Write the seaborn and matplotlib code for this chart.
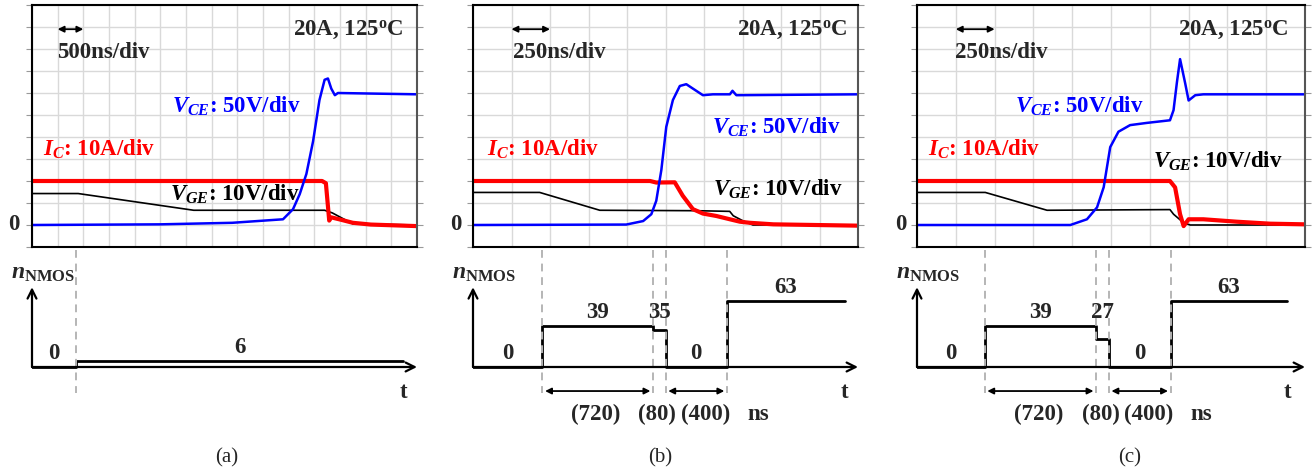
import numpy as np
import matplotlib
matplotlib.use("Agg")
import matplotlib.pyplot as plt
import seaborn as sns

sns.set_style("white")
plt.rcParams["font.family"] = ["Liberation Serif", "DejaVu Serif"]
plt.rcParams["mathtext.fontset"] = "custom"
plt.rcParams["mathtext.it"] = "Liberation Serif:italic:bold"
plt.rcParams["mathtext.rm"] = "Liberation Serif:bold"
plt.rcParams["mathtext.bf"] = "Liberation Serif:bold"

W, H = 1316, 473

# scope settings per panel
ns_per_div = [500, 250, 250]
n_cols = [15, 10, 10]
vce_div, ic_div, vge_div = 50, 10, 10   # V/div, A/div, V/div
time_labels = ["500ns/div", "250ns/div", "250ns/div"]
panel_tags = ["(a)", "(b)", "(c)"]

# (a) waveforms, t in ns
a_ic_t = [0, 5650, 5725, 5790, 5825, 6000, 6250, 6600, 7500]
a_ic = [20, 20, 19, 2, 3.5, 2.5, 1, 0.2, -0.5]
a_vge_t = [0, 900, 3150, 5700, 5850, 6250, 7500]
a_vge = [14.3, 14.3, 6.7, 6.7, 5.5, 0.5, 0]
a_vce_t = [0, 2500, 3900, 4890, 5085, 5215, 5345, 5475, 5600, 5700, 5765, 5830, 5900, 5960, 7500]
a_vce = [0, 1.5, 5, 13, 36, 70, 116, 190, 284, 330, 333, 310, 295, 300, 297]

# (b)
b_ic_t = [0, 1150, 1190, 1310, 1362, 1428, 1493, 1580, 1668, 1733, 1798, 1950, 2500]
b_ic = [20, 20, 19.3, 19.4, 13.3, 7.2, 5.2, 4.1, 2.6, 1.5, 1.0, 0.3, -0.3]
b_vge_t = [0, 433, 823, 1450, 1667, 1690, 1750, 1818, 2500]
b_vge = [14.8, 14.8, 6.7, 6.5, 6.2, 4.2, 2.0, 0, 0]
b_vce_t = [0, 995, 1105, 1158, 1190, 1223, 1255, 1298, 1343, 1385, 1428, 1493, 1558, 1668, 1685, 1710, 2500]
b_vce = [0, 1, 9, 24.5, 55, 125, 223, 284, 316, 320, 310, 295, 297, 297, 305, 295, 297]

# (c)
c_ic_t = [0, 1630, 1663, 1695, 1718, 1750, 1845, 2060, 2275, 2500]
c_ic = [20, 20, 17.1, 4.9, -0.5, 2.6, 2.6, 1.5, 0.6, 0.3]
c_vge_t = [0, 440, 838, 1630, 1653, 1718, 1760, 2500]
c_vge = [14.8, 14.8, 6.7, 7.0, 4.9, 1.0, 0, 0]
c_vce_t = [0, 988, 1095, 1160, 1203, 1245, 1298, 1373, 1480, 1630, 1653, 1675, 1695, 1728, 1750, 1793, 1845, 2500]
c_vce = [0, 0, 13, 40, 86, 177, 212, 227, 232, 238, 261, 325, 377, 322, 283, 295, 297, 297]

# n_NMOS step sequences: start time, durations (ns), levels
a_start, a_dur, a_levels, a_end = 857, [], [0, 6], 7230
b_start, b_dur, b_levels, b_end = 450, [720, 80, 400], [0, 39, 35, 0, 63], 2415
c_start, c_dur, c_levels, c_end = 435, [720, 80, 400], [0, 39, 27, 0, 63], 2385

panels = [
    dict(ic=(a_ic_t, a_ic), vge=(a_vge_t, a_vge), vce=(a_vce_t, a_vce),
         start=a_start, dur=a_dur, levels=a_levels, end=a_end),
    dict(ic=(b_ic_t, b_ic), vge=(b_vge_t, b_vge), vce=(b_vce_t, b_vce),
         start=b_start, dur=b_dur, levels=b_levels, end=b_end),
    dict(ic=(c_ic_t, c_ic), vge=(c_vge_t, c_vge), vce=(c_vce_t, c_vce),
         start=c_start, dur=c_dur, levels=c_levels, end=c_end),
]

# layout in pixels
ax_x = [(32, 417), (473, 858), (917, 1305)]
top_y = (5, 247)
bot_y = (250, 420)
base_px = 367
ppu = 1.05  # px per n_NMOS unit
dur_shift = [-2, -2, 9]  # px nudge of duration labels
# label placement (left x, baseline y) in px
lbl = [
    dict(cond=(293, 36), tdiv=(57, 58), vce=(172, 113), ic=(43, 156), vge=(170, 201), zero=(8, 230), tag=227),
    dict(cond=(737, 36), tdiv=(513, 58), vce=(712, 134), ic=(487, 156), vge=(713, 196), zero=(450, 230), tag=660),
    dict(cond=(1178, 36), tdiv=(955, 58), vce=(1015, 113), ic=(928, 156), vge=(1153, 168), zero=(895, 230), tag=1130),
]

fig = plt.figure(figsize=(W / 100, H / 100), dpi=100)
fs = 16.5


def rect(l, r, t, b):
    return [l / W, 1 - b / H, (r - l) / W, (b - t) / H]


def ftxt(x, y, s, **kw):
    fig.text(x / W, 1 - y / H, s, fontsize=kw.pop("fontsize", fs), fontweight=kw.pop("fontweight", "bold"),
             va=kw.pop("va", "baseline"), ha=kw.pop("ha", "left"), **kw)


for i, p in enumerate(panels):
    l, r = ax_x[i]
    xmax = n_cols[i] * ns_per_div[i]

    # ---- scope screen ----
    ax = fig.add_axes(rect(l, r, *top_y))
    ax.set_xlim(0, xmax)
    ax.set_ylim(-1, 10)
    ax.set_xticks(np.arange(0, xmax + 1, ns_per_div[i]))
    ax.set_yticks(np.arange(-1, 11))
    ax.grid(True, color="#d9d9d9", lw=1)
    ax.tick_params(left=True, right=True, bottom=False, length=4, color="#999999",
                   labelleft=False, labelbottom=False)
    for s in ["left", "top", "bottom"]:
        ax.spines[s].set_color("black")
        ax.spines[s].set_linewidth(1.5)
    ax.spines["right"].set_color("#555555")
    ax.spines["right"].set_linewidth(1.5)

    t, v = p["vge"]
    sns.lineplot(x=t, y=np.array(v) / vge_div, ax=ax, color="black", lw=1.2, estimator=None, sort=False)
    t, v = p["ic"]
    sns.lineplot(x=t, y=np.array(v) / ic_div, ax=ax, color="#ff0000", lw=3, estimator=None, sort=False)
    t, v = p["vce"]
    sns.lineplot(x=t, y=np.array(v) / vce_div, ax=ax, color="#0000ff", lw=1.8, estimator=None, sort=False)
    ax.set_xlabel("")
    ax.set_ylabel("")

    ax.annotate("", xy=(2 * ns_per_div[i], 8.9), xytext=(ns_per_div[i], 8.9),
                arrowprops=dict(arrowstyle="<|-|>", color="black", lw=1.3, mutation_scale=9,
                                shrinkA=0, shrinkB=0))

    L = lbl[i]
    ftxt(*L["cond"], "20A, 125$^{\\mathrm{o}}$C")
    ftxt(*L["tdiv"], time_labels[i])
    ftxt(*L["vce"], "$V_{CE}$: 50V/div", color="#0000ff")
    ftxt(*L["ic"], "$I_{C}$: 10A/div", color="#ff0000")
    ftxt(*L["vge"], "$V_{GE}$: 10V/div", color="black")
    ftxt(*L["zero"], "0")
    ftxt(L["tag"], 458, panel_tags[i], fontweight="normal", fontsize=15, ha="center", va="center")

    # ---- n_NMOS timing diagram ----
    bx = fig.add_axes(rect(l, r, *bot_y))
    bx.set_xlim(0, xmax)
    bx.set_ylim(-(bot_y[1] - base_px) / ppu, (base_px - bot_y[0]) / ppu)
    bx.axis("off")

    edges = [0, p["start"]] + list(p["start"] + np.cumsum(p["dur"])) + [p["end"]]
    levels = p["levels"]
    sns.lineplot(x=edges, y=levels + [levels[-1]], ax=bx, color="black", lw=2.0,
                 drawstyle="steps-post", estimator=None, sort=False)
    bx.set_xlabel("")
    bx.set_ylabel("")

    # axes arrows
    bx.annotate("", xy=(0, 76), xytext=(0, 0),
                arrowprops=dict(arrowstyle="->", color="black", lw=1.6, mutation_scale=16, shrinkA=0, shrinkB=0))
    bx.annotate("", xy=(xmax, 0), xytext=(0, 0),
                arrowprops=dict(arrowstyle="->", color="black", lw=1.6, mutation_scale=16, shrinkA=0, shrinkB=0))
    bx.annotate("$n_{\\mathrm{NMOS}}$", xy=(0, 84), xytext=(-21, 0), textcoords="offset pixels",
                fontsize=17, ha="left", va="baseline")
    bx.text(p["end"], -24, "t", fontsize=fs, fontweight="bold", ha="center", va="center")

    # dashed markers at switching instants
    for e in edges[1:-1]:
        bx.plot([e, e], [111.4, -24.8], color="#b5b5b5", lw=1.4, ls=(0, (4, 3)), clip_on=False)

    # level labels
    for k, lev in enumerate(levels):
        x0, x1 = edges[k], edges[k + 1]
        ylev = lev
        if k > 0 and (x1 - x0) < 0.05 * xmax:
            ylev = max(lev, levels[k - 1])
        bx.text((x0 + x1) / 2, ylev + 12.5, str(lev), fontsize=fs, fontweight="bold", ha="center", va="center")

    # duration arrows
    if p["dur"]:
        segs = [(edges[1], edges[2]), (edges[3], edges[4])]
        for s0, s1 in segs:
            bx.annotate("", xy=(s1, -22.9), xytext=(s0, -22.9),
                        arrowprops=dict(arrowstyle="<|-|>", color="black", lw=1.3, mutation_scale=9,
                                        shrinkA=2, shrinkB=2))
        for k, d in enumerate(p["dur"]):
            bx.annotate(f"({d})", xy=((edges[k + 1] + edges[k + 2]) / 2, -44.8), xytext=(dur_shift[k], 0),
                        textcoords="offset pixels", fontsize=fs, fontweight="bold", ha="center", va="center")
        bx.annotate("ns", xy=(edges[4], -44.8), xytext=(20, 0), textcoords="offset pixels",
                    fontsize=fs, fontweight="bold", ha="left", va="center")

fig.savefig("out.png", dpi=100)
